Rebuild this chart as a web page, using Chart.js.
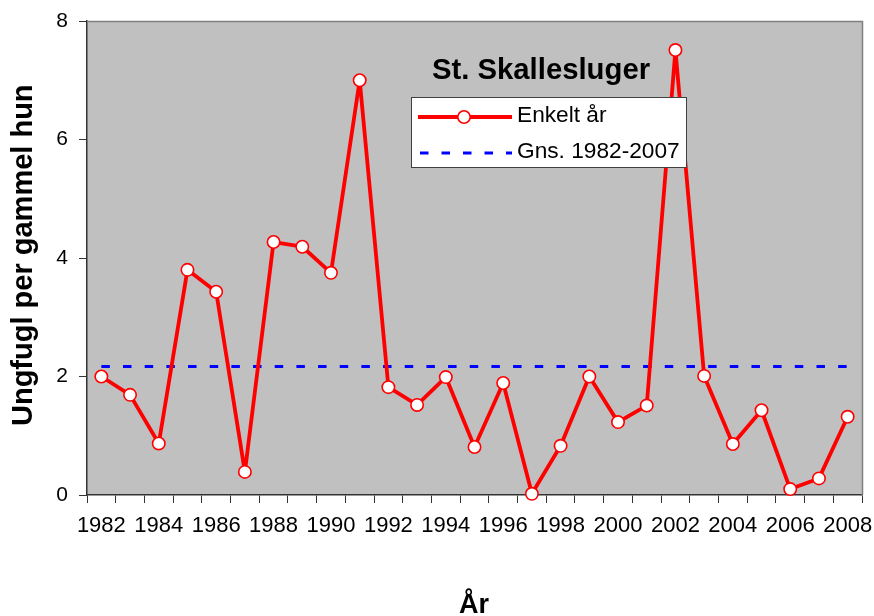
<!DOCTYPE html>
<html><head><meta charset="utf-8">
<script src="https://cdn.jsdelivr.net/npm/chart.js@4"></script>
<style>html,body{margin:0;padding:0;background:#fff}</style>
</head><body>
<canvas id="c" width="874" height="616" style="display:block;width:874px;height:616px"></canvas>
<script>
const years = ['1982','1983','1984','1985','1986','1987','1988','1989','1990','1991','1992','1993','1994','1995','1996','1997','1998','1999','2000','2001','2002','2003','2004','2005','2006','2007','2008'];
const xTickLabels = ['1982','','1984','','1986','','1988','','1990','','1992','','1994','','1996','','1998','','2000','','2002','','2004','','2006','','2008'];
const enkeltAar = [2.0,1.69,0.87,3.80,3.43,0.39,4.27,4.19,3.75,7.0,1.82,1.52,1.99,0.81,1.89,0.02,0.83,2.0,1.23,1.51,7.51,2.01,0.86,1.43,0.10,0.28,1.32];
const gns = [2.17,2.17,2.17,2.17,2.17,2.17,2.17,2.17,2.17,2.17,2.17,2.17,2.17,2.17,2.17,2.17,2.17,2.17,2.17,2.17,2.17,2.17,2.17,2.17,2.17,2.17,2.17];
const yTicks = [0,2,4,6,8];
const titleText = 'St. Skallesluger';
const yTitle = 'Ungfugl per gammel hun';
const xTitle = 'År';
const seriesLabels = ['Enkelt år','Gns. 1982-2007'];

const FONT = '"Liberation Sans", Arial, sans-serif';

const deco = {
  id: 'deco',
  beforeDraw(chart) {
    const {ctx, chartArea: a} = chart;
    ctx.save();
    ctx.fillStyle = '#C0C0C0';
    ctx.fillRect(a.left, a.top, a.right - a.left, a.bottom - a.top);
    ctx.restore();
  },
  beforeDatasetsDraw(chart) {
    const {ctx, chartArea: a} = chart;
    ctx.save();
    ctx.strokeStyle = '#808080';
    ctx.lineWidth = 1.5;
    ctx.beginPath();
    ctx.moveTo(a.left, a.top + 0.5);
    ctx.lineTo(a.right + 0.5, a.top + 0.5);
    ctx.lineTo(a.right + 0.5, a.bottom);
    ctx.stroke();
    ctx.restore();
  },
  afterDraw(chart) {
    const ctx = chart.ctx;
    ctx.save();
    // legend box
    ctx.fillStyle = '#FFFFFF';
    ctx.fillRect(411, 97, 276, 71);
    ctx.strokeStyle = '#404040';
    ctx.lineWidth = 1;
    ctx.strokeRect(411.5, 97.5, 275, 70);
    // entry 1
    ctx.strokeStyle = '#FF0000';
    ctx.lineWidth = 3.8;
    ctx.beginPath(); ctx.moveTo(418, 117); ctx.lineTo(512, 117); ctx.stroke();
    ctx.beginPath(); ctx.arc(464, 117, 6.2, 0, Math.PI * 2);
    ctx.fillStyle = '#FFFFFF'; ctx.fill();
    ctx.lineWidth = 1.6; ctx.stroke();
    // entry 2
    ctx.strokeStyle = '#0000FF';
    ctx.lineWidth = 3;
    ctx.setLineDash([8.5, 13]);
    ctx.beginPath(); ctx.moveTo(420, 153); ctx.lineTo(512, 153); ctx.stroke();
    ctx.setLineDash([]);
    ctx.fillStyle = '#000000';
    ctx.font = '22.7px ' + FONT;
    ctx.textAlign = 'left';
    ctx.textBaseline = 'alphabetic';
    ctx.fillText(seriesLabels[0], 517, 122);
    ctx.fillText(seriesLabels[1], 517, 158);
    // title
    ctx.font = 'bold 29.3px ' + FONT;
    ctx.textAlign = 'center';
    ctx.fillText(titleText, 541, 79);
    // x title
    ctx.font = 'bold 27px ' + FONT;
    ctx.fillText(xTitle, 474, 613);
    // y title
    ctx.font = 'bold 29px ' + FONT;
    ctx.translate(32, 426);
    ctx.rotate(-Math.PI / 2);
    ctx.textAlign = 'left';
    ctx.fillText(yTitle, 0, 0);
    ctx.restore();
  }
};

new Chart(document.getElementById('c'), {
  type: 'line',
  data: {
    labels: years,
    datasets: [
      {
        label: seriesLabels[0],
        data: enkeltAar,
        borderColor: '#FF0000',
        borderWidth: 3.8,
        borderJoinStyle: 'round',
        pointRadius: 6.2,
        pointHoverRadius: 6.2,
        pointBorderWidth: 1.6,
        pointBackgroundColor: '#FFFFFF',
        pointBorderColor: '#FF0000',
        tension: 0,
        clip: false,
        order: 1
      },
      {
        label: seriesLabels[1],
        data: gns,
        borderColor: '#0000FF',
        borderWidth: 3,
        borderDash: [8.5, 13.17],
        pointRadius: 0,
        tension: 0,
        clip: false,
        order: 2
      }
    ]
  },
  options: {
    responsive: false,
    devicePixelRatio: 1,
    animation: false,
    events: [],
    layout: { padding: { top: 21, right: 12, left: 0, bottom: 0 }, autoPadding: false },
    plugins: { legend: { display: false }, title: { display: false }, tooltip: { enabled: false } },
    scales: {
      x: {
        type: 'category',
        offset: true,
        grid: { offset: true, drawOnChartArea: false, drawTicks: true, tickLength: 8, color: '#333333', lineWidth: 1 },
        border: { color: '#333333', width: 1.5 },
        ticks: {
          autoSkip: false, maxRotation: 0, minRotation: 0, padding: 10, color: '#000000',
          font: { size: 22, family: FONT },
          callback: (v, i) => xTickLabels[i]
        },
        afterFit: (s) => { s.height = 121; s.paddingLeft = 0; s.paddingRight = 0; }
      },
      y: {
        min: yTicks[0], max: yTicks[yTicks.length - 1],
        afterBuildTicks: (s) => { s.ticks = yTicks.map(v => ({ value: v })); },
        grid: { drawOnChartArea: false, drawTicks: true, tickLength: 8, color: '#333333', lineWidth: 1 },
        border: { color: '#333333', width: 1.5 },
        ticks: { padding: 11, color: '#000000', font: { size: 21, family: FONT } },
        afterFit: (s) => { s.width = 87; s.paddingTop = 0; s.paddingBottom = 0; }
      }
    }
  },
  plugins: [deco]
});
</script>
</body></html>
